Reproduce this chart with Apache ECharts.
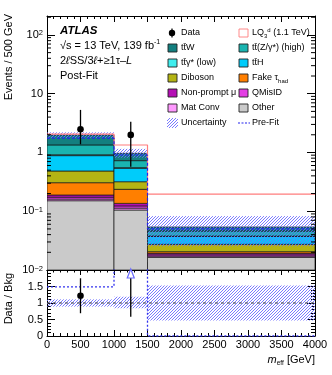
<!DOCTYPE html>
<html>
<head>
<meta charset="utf-8">
<title>meff post-fit</title>
<script src="https://cdn.jsdelivr.net/npm/echarts@6.0.0/dist/echarts.min.js"></script>
<style>
  html, body { margin: 0; padding: 0; background: #fff; }
  #chart-dom { width: 332px; height: 375px; }
</style>
</head>
<body>
<div id="chart-dom"></div>
<script>
// bins in m_eff [GeV]
const binEdges = [0, 1000, 1500, 4000];

// post-fit backgrounds, events / 500 GeV (bottom of the stack first)
const other       = [0.151, 0.105, 0.0164];
const matConv     = [0.010, 0.008, 0.0008];
const qMisID      = [0.012, 0.010, 0.0009];
const nonPromptMu = [0.016, 0.013, 0.0011];
const fakeTau     = [0.117, 0.100, 0.0013];
const diboson     = [0.178, 0.082, 0.0069];
const ttH         = [0.400, 0.220, 0.0098];
const ttGammaLow  = [0.030, 0.014, 0.0007];
const ttZHigh     = [0.430, 0.174, 0.0082];
const ttW         = [0.640, 0.242, 0.0079];

const lqSignal = [2.05, 1.34, 0.195];
const preFit   = [1.75, 0.906, 0.050];
// relative size of the uncertainty band
const uncLo = [0.89, 0.84, 0.47];
const uncHi = [1.11, 1.19, 1.53];

const dataX  = [500, 1250];
const dataY  = [2.48, 1.99];
const dataLo = [1.38, 0.573];
const dataHi = [5.3, 3.34];

const ratioY  = [1.22, 2.05];
const ratioLo = [0.69, 0.58];
const ratioHi = [1.75, 2.05];
const preFitRatio = [1.49, 2.3, 0];

const yMainTicks  = [0.01, 0.1, 1, 10, 100];
const yMainLabels = ['10{s|−2}', '10{s|−1}', '1', '10', '10{s|2}'];
const yRatioTicks = [0, 0.5, 1, 1.5];
const yMin = 0.01, yMax = 210;

const FONT = '"Liberation Sans", Arial, Helvetica, sans-serif';
const HATCH = '#6b6bff';

const layers = [
  { name: 'Other',        vals: other,       color: '#cacaca' },
  { name: 'Mat Conv',     vals: matConv,     color: '#ff99ff' },
  { name: 'QMisID',       vals: qMisID,      color: '#e43fe4' },
  { name: 'Non-prompt μ', vals: nonPromptMu, color: '#b40fb4' },
  { name: 'Fake τhad',    vals: fakeTau,     color: '#ff7f00' },
  { name: 'Diboson',      vals: diboson,     color: '#b4b414' },
  { name: 'ttH',          vals: ttH,         color: '#00ccfa' },
  { name: 'ttγ* (low)',   vals: ttGammaLow,  color: '#40eeee' },
  { name: 'ttZ (high)',   vals: ttZHigh,     color: '#1ab4b0' },
  { name: 'ttW',          vals: ttW,         color: '#137f7f' }
];

// stacked rectangles [x0, x1, lo, hi, layer]
const stackRects = [];
const total = [0, 0, 0];
layers.forEach((l, li) => {
  l.vals.forEach((v, b) => {
    const lo = total[b] === 0 ? yMin : total[b];
    total[b] += v;
    stackRects.push([binEdges[b], binEdges[b + 1], lo, total[b], li]);
  });
});
const bandRects = total.map((t, b) => [binEdges[b], binEdges[b + 1], t * uncLo[b], t * uncHi[b]]);
const ratioBandRects = total.map((t, b) => [binEdges[b], binEdges[b + 1], uncLo[b], uncHi[b]]);
const stepOf = arr => binEdges.map((e, i) => [e, arr[Math.min(i, arr.length - 1)]]);

const logMinor = [];
for (let e = -2; e <= 2; e++) {
  for (let m = 2; m <= 9; m++) {
    const v = m * Math.pow(10, e);
    if (v < yMax) logMinor.push([0, v]);
  }
}

// "///" hatching of a pixel rectangle, as line elements
function hatchLines(r, step) {
  const out = [];
  const t0 = Math.ceil((r.x + r.y) / step) * step;
  for (let t = t0; t <= r.x + r.width + r.y + r.height; t += step) {
    const p1 = Math.max(r.x, t - (r.y + r.height));
    const p2 = Math.min(r.x + r.width, t - r.y);
    if (p2 > p1) {
      out.push({
        type: 'line', silent: true,
        shape: { x1: p1, y1: t - p1, x2: p2, y2: t - p2 },
        style: { stroke: HATCH, lineWidth: 0.9 }
      });
    }
  }
  return out;
}

function rectShape(api, x0, x1, lo, hi) {
  const a = api.coord([x0, hi]);
  const b = api.coord([x1, lo]);
  return { x: a[0], y: a[1], width: b[0] - a[0], height: b[1] - a[1] };
}

function bandItem(params, api) {
  const r = rectShape(api, api.value(0), api.value(1), api.value(2), api.value(3));
  const g = params.coordSys;
  // keep the band inside the panel
  const y0 = Math.max(r.y, g.y), y1 = Math.min(r.y + r.height, g.y + g.height);
  return { type: 'group', children: hatchLines({ x: r.x, y: y0, width: r.width, height: y1 - y0 }, 3) };
}

const myChart = echarts.init(document.getElementById('chart-dom'));

const axisLine = { show: true, onZero: false, lineStyle: { color: '#000', width: 1 } };
function xAx(grid, pos, tick, labels) {
  return {
    type: 'value', gridIndex: grid, position: pos, min: 0, max: 4000, interval: 500,
    axisLine: axisLine,
    axisTick: { inside: true, length: tick, lineStyle: { color: '#000' } },
    minorTick: { show: true, splitNumber: 5, length: tick / 2, lineStyle: { color: '#000' } },
    splitLine: { show: false },
    axisLabel: labels
      ? { show: true, margin: 3, color: '#000', fontSize: 11, fontFamily: FONT, formatter: v => String(v) }
      : { show: false }
  };
}

const option = {
  animation: false,
  backgroundColor: '#fff',
  grid: [
    { left: 47, right: 17, top: 16, height: 254 },
    { left: 47, right: 17, top: 270, height: 66 }
  ],
  xAxis: [
    xAx(0, 'bottom', 8, false),
    xAx(0, 'top', 6, false),
    xAx(1, 'bottom', 6, true),
    xAx(1, 'top', 5, false)
  ],
  yAxis: [
    {
      type: 'log', gridIndex: 0, position: 'left', min: yMin, max: yMax, logBase: 10,
      axisLine: axisLine,
      axisTick: { inside: true, length: 8, lineStyle: { color: '#000' } },
      splitLine: { show: false },
      axisLabel: {
        margin: 4, color: '#000', fontSize: 11, fontFamily: FONT,
        formatter: v => {
          const i = yMainTicks.findIndex(t => Math.abs(t - v) / t < 1e-6);
          return i < 0 ? '' : yMainLabels[i];
        },
        rich: { s: { fontSize: 7.5, fontFamily: FONT, color: '#000', verticalAlign: 'top', lineHeight: 8 } }
      }
    },
    {
      type: 'log', gridIndex: 0, position: 'right', min: yMin, max: yMax, logBase: 10,
      axisLine: axisLine,
      axisTick: { inside: true, length: 8, lineStyle: { color: '#000' } },
      splitLine: { show: false }, axisLabel: { show: false }
    },
    {
      type: 'value', gridIndex: 1, position: 'left', min: 0, max: 2, interval: 0.5,
      axisLine: axisLine,
      axisTick: { inside: true, length: 8, lineStyle: { color: '#000' } },
      minorTick: { show: true, splitNumber: 5, length: 4, lineStyle: { color: '#000' } },
      splitLine: { show: false },
      axisLabel: {
        margin: 4, color: '#000', fontSize: 11, fontFamily: FONT,
        formatter: v => (yRatioTicks.indexOf(v) >= 0 ? String(v) : '')
      }
    },
    {
      type: 'value', gridIndex: 1, position: 'right', min: 0, max: 2, interval: 0.5,
      axisLine: axisLine,
      axisTick: { inside: true, length: 8, lineStyle: { color: '#000' } },
      minorTick: { show: true, splitNumber: 5, length: 4, lineStyle: { color: '#000' } },
      splitLine: { show: false }, axisLabel: { show: false }
    }
  ],
  series: [
    {
      name: 'stack', type: 'custom', xAxisIndex: 0, yAxisIndex: 0, clip: true, z: 1,
      encode: { x: [0, 1], y: [2, 3] },
      data: stackRects,
      renderItem: (params, api) => ({
        type: 'rect',
        shape: rectShape(api, api.value(0), api.value(1), api.value(2), api.value(3)),
        style: { fill: layers[api.value(4)].color, stroke: 'rgba(20,20,20,0.85)', lineWidth: 0.8 }
      })
    },
    {
      name: 'Uncertainty', type: 'custom', xAxisIndex: 0, yAxisIndex: 0, clip: true, z: 2,
      encode: { x: [0, 1], y: [2, 3] },
      data: bandRects,
      renderItem: bandItem
    },
    {
      name: 'LQ', type: 'line', xAxisIndex: 0, yAxisIndex: 0, step: 'end', z: 3,
      symbol: 'none', data: stepOf(lqSignal),
      lineStyle: { color: '#ff7d7d', width: 1.2 }
    },
    {
      name: 'Pre-Fit', type: 'line', xAxisIndex: 0, yAxisIndex: 0, step: 'end', z: 4,
      symbol: 'none', data: stepOf(preFit),
      lineStyle: { color: '#2222ee', width: 1.2, type: [3, 2] }
    },
    {
      name: 'Data', type: 'custom', xAxisIndex: 0, yAxisIndex: 0, z: 5,
      encode: { x: 0, y: [1, 2, 3] },
      data: dataX.map((x, i) => [x, dataY[i], dataLo[i], dataHi[i]]),
      renderItem: (params, api) => {
        const c = api.coord([api.value(0), api.value(1)]);
        const lo = api.coord([api.value(0), api.value(2)]);
        const hi = api.coord([api.value(0), api.value(3)]);
        return {
          type: 'group', children: [
            { type: 'line', shape: { x1: c[0], y1: lo[1], x2: c[0], y2: hi[1] }, style: { stroke: '#000', lineWidth: 1.3 } },
            { type: 'circle', shape: { cx: c[0], cy: c[1], r: 3.3 }, style: { fill: '#000' } }
          ]
        };
      }
    },
    {
      name: 'log minor ticks', type: 'custom', xAxisIndex: 0, yAxisIndex: 0, z: 6, silent: true,
      encode: { x: 0, y: 1 }, data: logMinor,
      renderItem: (params, api) => {
        const g = params.coordSys;
        const y = api.coord([0, api.value(1)])[1];
        return {
          type: 'group', children: [
            { type: 'line', shape: { x1: g.x, y1: y, x2: g.x + 4, y2: y }, style: { stroke: '#000', lineWidth: 1 } },
            { type: 'line', shape: { x1: g.x + g.width, y1: y, x2: g.x + g.width - 4, y2: y }, style: { stroke: '#000', lineWidth: 1 } }
          ]
        };
      }
    },
    {
      name: 'ratio band', type: 'custom', xAxisIndex: 2, yAxisIndex: 2, clip: true, z: 2,
      encode: { x: [0, 1], y: [2, 3] },
      data: ratioBandRects,
      renderItem: bandItem
    },
    {
      name: 'unity', type: 'line', xAxisIndex: 2, yAxisIndex: 2, z: 3, symbol: 'none',
      data: [[0, 1], [4000, 1]],
      lineStyle: { color: '#444', width: 1, type: [3, 3] }
    },
    {
      name: 'Pre-Fit ratio', type: 'line', xAxisIndex: 2, yAxisIndex: 2, step: 'end', z: 4,
      symbol: 'none', data: stepOf(preFitRatio), clip: true,
      lineStyle: { color: '#3333ee', width: 1.3, type: [2, 2] }
    },
    {
      name: 'Data ratio', type: 'custom', xAxisIndex: 2, yAxisIndex: 2, z: 5,
      encode: { x: 0, y: [1, 2] },
      data: dataX.map((x, i) => [x, ratioY[i], ratioLo[i], ratioHi[i]]),
      renderItem: (params, api) => {
        const x = api.value(0), v = api.value(1);
        const lo = api.coord([x, api.value(2)]);
        if (v > 2) {
          // off-scale: open arrow at the top of the panel
          const top = api.coord([x, 2]);
          return {
            type: 'group', children: [
              { type: 'line', shape: { x1: top[0], y1: top[1] + 8, x2: top[0], y2: lo[1] }, style: { stroke: '#000', lineWidth: 1.3 } },
              { type: 'polygon', shape: { points: [[top[0], top[1] - 1], [top[0] - 3.5, top[1] + 8], [top[0] + 3.5, top[1] + 8]] },
                style: { fill: '#fff', stroke: '#6a6aff', lineWidth: 1.2 } }
            ]
          };
        }
        const c = api.coord([x, v]);
        const hi = api.coord([x, Math.min(api.value(3), 2)]);
        return {
          type: 'group', children: [
            { type: 'line', shape: { x1: c[0], y1: lo[1], x2: c[0], y2: hi[1] }, style: { stroke: '#000', lineWidth: 1.3 } },
            { type: 'circle', shape: { cx: c[0], cy: c[1], r: 3.3 }, style: { fill: '#000' } }
          ]
        };
      }
    }
  ],
  graphic: []
};

// texts and legend
const G = option.graphic;
const txt = (x, y, text, extra) => G.push({
  type: 'text', x: x, y: y, z: 100,
  style: Object.assign({ text: text, fill: '#000', fontSize: 11, fontFamily: FONT, align: 'left', verticalAlign: 'middle' }, extra || {})
});
const supSub = {
  s: { fontSize: 7, fontFamily: FONT, verticalAlign: 'top', lineHeight: 7 },
  u: { fontSize: 6.5, fontFamily: FONT, verticalAlign: 'bottom', lineHeight: 7 },
  i: { fontSize: 11, fontFamily: FONT, fontStyle: 'italic' }
};

txt(60, 31, 'ATLAS', { fontSize: 11.5, fontWeight: 'bold', fontStyle: 'italic' });
txt(60, 46, '√s = 13 TeV, 139 fb{s|-1}', { rich: supSub, lineHeight: 14 });
txt(60, 61, '2{i|ℓ}SS/3{i|ℓ}+≥1τ–{i|L}', { rich: supSub });
txt(60, 76, 'Post-Fit');

// axis titles
txt(9, 14, 'Events / 500 GeV', { align: 'right' });
G[G.length - 1].rotation = Math.PI / 2;
txt(9, 273, 'Data / Bkg', { align: 'right' });
G[G.length - 1].rotation = Math.PI / 2;
txt(315, 360, '{i|m}{u|eff} [GeV]', { align: 'right', rich: supSub, lineHeight: 14 });

const legRows = [33, 48, 63, 78, 93, 108, 123];
const legRich = {
  s: { fontSize: 6, fontFamily: FONT, verticalAlign: 'top', lineHeight: 6 },
  u: { fontSize: 6, fontFamily: FONT, verticalAlign: 'bottom', lineHeight: 6 }
};
const box = (x, y, fill, stroke) => G.push({
  type: 'rect', z: 100, shape: { x: x, y: y - 4, width: 9, height: 8 },
  style: { fill: fill, stroke: stroke || '#222', lineWidth: 0.9 }
});
const legText = (x, y, t) => txt(x, y, t, { fontSize: 9, rich: legRich, lineHeight: 12 });

// left column
G.push({ type: 'line', z: 100, shape: { x1: 172, y1: legRows[0] - 4.5, x2: 172, y2: legRows[0] + 4.5 }, style: { stroke: '#000', lineWidth: 1.2 } });
G.push({ type: 'circle', z: 100, shape: { cx: 172, cy: legRows[0], r: 3.2 }, style: { fill: '#000' } });
legText(181, legRows[0], 'Data');
const leftLeg = [['tt̄W', 9], ['tt̄γ* (low)', 7], ['Diboson', 5], ['Non-prompt μ', 3], ['Mat Conv', 1]];
leftLeg.forEach((e, i) => { box(168, legRows[i + 1], layers[e[1]].color); legText(181, legRows[i + 1], e[0]); });
G.push({ type: 'group', z: 100, children: hatchLines({ x: 167, y: legRows[6] - 5, width: 11, height: 10 }, 3) });
legText(181, legRows[6], 'Uncertainty');

// right column
box(239, legRows[0], '#fff', '#ff7d7d');
legText(252, legRows[0], 'LQ{u|3}{s|d} (1.1 TeV)');
const rightLeg = [['tt̄(Z/γ*) (high)', 8], ['tt̄H', 6], ['Fake τ{u|had}', 4], ['QMisID', 2], ['Other', 0]];
rightLeg.forEach((e, i) => { box(239, legRows[i + 1], layers[e[1]].color); legText(252, legRows[i + 1], e[0]); });
G.push({ type: 'line', z: 100, shape: { x1: 238, y1: legRows[6], x2: 250, y2: legRows[6] }, style: { stroke: '#2222ee', lineWidth: 1.2, lineDash: [2, 1.5] } });
legText(252, legRows[6], 'Pre-Fit');

myChart.setOption(option, true);
</script>
</body>
</html>
